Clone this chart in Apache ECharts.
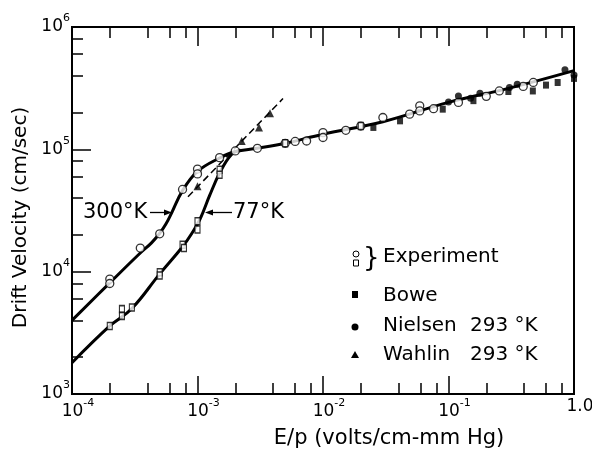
<!DOCTYPE html>
<html>
<head>
<meta charset="utf-8">
<script src="https://cdn.jsdelivr.net/npm/echarts@6/dist/echarts.min.js"></script>
<style>
  html, body { margin: 0; padding: 0; background: #fff; }
  #chart { width: 592px; height: 449px; }
</style>
</head>
<body>
<div id="chart"></div>
<script>
// 坐标轴刻度
var xMajor = [1e-4, 1e-3, 1e-2, 1e-1, 1];
var xMinor = [2e-4, 4e-4, 6e-4, 8e-4, 2e-3, 4e-3, 6e-3, 8e-3,
              2e-2, 4e-2, 6e-2, 8e-2, 0.2, 0.4, 0.6, 0.8];
var yMajor = [1e3, 1e4, 1e5, 1e6];
var yMinor = [2e3, 4e3, 6e3, 8e3, 2e4, 4e4, 6e4, 8e4,
              2e5, 4e5, 6e5, 8e5];

// 300°K 曲线 (含高场公共段)
var curve300 = [[1e-4, 4.0e3], [2e-4, 8.1e3], [3.5e-4, 1.42e4], [4.3e-4, 1.72e4],
  [5e-4, 2.06e4], [5.6e-4, 2.45e4], [6.2e-4, 3.0e4], [7.6e-4, 4.6e4],
  [1e-3, 6.6e4], [1.5e-3, 8.5e4], [2e-3, 9.6e4], [3e-3, 1.02e5],
  [5e-3, 1.12e5], [1e-2, 1.33e5], [3e-2, 1.68e5], [0.1, 2.42e5],
  [0.3, 3.15e5], [1.0, 4.4e5]];
// 77°K 曲线
var curve77 = [[1e-4, 1.8e3], [2e-4, 3.6e3], [3e-4, 5.0e3], [5e-4, 9.6e3],
  [7.6e-4, 1.6e4], [9e-4, 2.05e4], [1.05e-3, 2.7e4], [1.25e-3, 4.2e4],
  [1.5e-3, 6.4e4], [1.85e-3, 9.0e4], [2.2e-3, 9.9e4]];
// Wahlin 虚线
var wahlinLine = [[8.4e-4, 4.1e4], [4.8e-3, 2.6e5]];

// 实验点
var expCircle = [[2e-4, 8.7e3], [2e-4, 8.0e3], [3.5e-4, 1.56e4], [5e-4, 2.04e4],
  [7.6e-4, 4.7e4], [1e-3, 6.9e4], [1e-3, 6.3e4], [1.5e-3, 8.55e4],
  [2e-3, 9.7e4], [3e-3, 1.02e5], [5e-3, 1.12e5], [6e-3, 1.16e5],
  [7.4e-3, 1.17e5], [1e-2, 1.37e5], [1e-2, 1.25e5], [1.52e-2, 1.43e5],
  [2.0e-2, 1.55e5], [3.0e-2, 1.82e5], [4.9e-2, 1.94e5], [5.9e-2, 2.27e5],
  [5.9e-2, 2.06e5], [7.6e-2, 2.15e5], [0.12, 2.42e5], [0.2, 2.71e5],
  [0.254, 3.0e5], [0.394, 3.27e5], [0.474, 3.52e5]];
var expSquare = [[2e-4, 3.6e3], [2.5e-4, 4.94e3], [2.5e-4, 4.35e3], [3e-4, 5.1e3],
  [5e-4, 9.9e3], [5e-4, 9.3e3], [7.6e-4, 1.66e4], [7.8e-4, 1.56e4],
  [1e-3, 2.58e4], [1e-3, 2.21e4], [1.5e-3, 6.8e4], [1.5e-3, 6.2e4],
  [5e-3, 1.12e5], [2.0e-2, 1.55e5]];
var bowe = [[2.52e-2, 1.51e5], [4.11e-2, 1.71e5], [9.0e-2, 2.13e5], [0.158, 2.5e5],
  [0.30, 2.97e5], [0.47, 3.0e5], [0.598, 3.35e5], [0.741, 3.52e5], [1.0, 3.8e5]];
var nielsen = [[0.1, 2.44e5], [0.12, 2.73e5], [0.15, 2.62e5], [0.178, 2.88e5],
  [0.306, 3.2e5], [0.353, 3.41e5], [0.847, 4.47e5], [1.0, 4.05e5]];
var wahlin = [[1e-3, 5.0e4], [2.25e-3, 1.17e5], [3.09e-3, 1.51e5], [3.78e-3, 1.97e5]];

var FONT = 'DejaVu Sans';

function powLabel(v) {
    if (Math.abs(v - 1) < 1e-9) return '{b|1.0}';
    var e = Math.round(Math.log(v) / Math.LN10);
    return '{b|10}{s|' + e + '}';
}
var richPow = {
    b: {fontSize: 17, fontFamily: FONT, color: '#000'},
    s: {fontSize: 11, fontFamily: FONT, color: '#000', padding: [0, 0, 17, 0]}
};

function tickAxis(pos, values, len, showLine) {
    return {
        type: 'log', position: pos,
        min: 1e-4, max: 1,
        axisLine: {show: showLine, lineStyle: {color: '#000', width: 2}},
        axisTick: {show: true, inside: true, length: len, customValues: values,
                   lineStyle: {color: '#000', width: 1.5}},
        axisLabel: {show: false},
        splitLine: {show: false}
    };
}

var chart = echarts.init(document.getElementById('chart'));
var option = {
    backgroundColor: '#fff',
    animation: false,
    grid: {left: 72, right: 18, top: 27, bottom: 55, show: true,
           borderColor: '#000', borderWidth: 2, outerBoundsMode: 'none'},
    xAxis: [
        {
            type: 'log', position: 'bottom', min: 1e-4, max: 1,
            axisLine: {show: true, lineStyle: {color: '#000', width: 2}},
            axisTick: {show: true, inside: true, length: 18, customValues: xMajor,
                       lineStyle: {color: '#000', width: 1.5}},
            axisLabel: {customValues: xMajor, formatter: powLabel, rich: richPow,
                        margin: 4, padding: [0, 0, 0, 12]},
            splitLine: {show: false},
            name: 'E/p (volts/cm-mm Hg)', nameLocation: 'middle', nameGap: 34,
            nameTextStyle: {fontSize: 21, fontFamily: FONT, color: '#000',
                            padding: [0, 0, 0, 132]}
        },
        tickAxis('bottom', xMinor, 11, false),
        tickAxis('top', xMajor, 19, false),
        tickAxis('top', xMinor, 11, false)
    ],
    yAxis: [
        {
            type: 'log', position: 'left', min: 1e3, max: 1e6,
            axisLine: {show: true, lineStyle: {color: '#000', width: 2}},
            axisTick: {show: true, inside: true, length: 19, customValues: yMajor,
                       lineStyle: {color: '#000', width: 1.5}},
            axisLabel: {customValues: yMajor, formatter: powLabel, rich: richPow, margin: 2},
            splitLine: {show: false},
            name: 'Drift Velocity (cm/sec)', nameLocation: 'middle', nameGap: 40,
            nameTextStyle: {fontSize: 20, fontFamily: FONT, color: '#000',
                            padding: [0, 14, 0, 0]}
        },
        {
            type: 'log', position: 'left', min: 1e3, max: 1e6,
            axisLine: {show: false},
            axisTick: {show: true, inside: true, length: 11, customValues: yMinor,
                       lineStyle: {color: '#000', width: 1.5}},
            axisLabel: {show: false},
            splitLine: {show: false}
        }
    ],
    series: [
        {name: '300K', type: 'line', data: curve300, smooth: 0.4,
         showSymbol: false, lineStyle: {color: '#000', width: 3}, z: 2},
        {name: '77K', type: 'line', data: curve77, smooth: 0.4,
         showSymbol: false, lineStyle: {color: '#000', width: 3}, z: 2},
        {name: 'WahlinLine', type: 'line', data: wahlinLine, showSymbol: false,
         lineStyle: {color: '#000', width: 1.5, type: [7, 4]}, z: 2},
        {name: 'Experiment 300', type: 'scatter', data: expCircle, symbol: 'circle',
         symbolSize: 8, itemStyle: {color: '#fff', borderColor: '#000', borderWidth: 1.3}, z: 4},
        {name: 'Experiment 77', type: 'scatter', data: expSquare, symbol: 'rect',
         symbolSize: [5, 7], itemStyle: {color: '#fff', borderColor: '#000', borderWidth: 1.3}, z: 4},
        {name: 'Bowe', type: 'scatter', data: bowe, symbol: 'rect',
         symbolSize: [6, 7], itemStyle: {color: '#000'}, z: 5},
        {name: 'Nielsen', type: 'scatter', data: nielsen, symbol: 'circle',
         symbolSize: 7, itemStyle: {color: '#000'}, z: 5},
        {name: 'Wahlin', type: 'scatter', data: wahlin, symbol: 'triangle',
         symbolSize: 8, itemStyle: {color: '#000'}, z: 5}
    ],
    graphic: [
        // 图例
        {type: 'circle', shape: {cx: 356, cy: 254, r: 3}, style: {fill: '#fff', stroke: '#000', lineWidth: 1}},
        {type: 'rect', shape: {x: 353.5, y: 260, width: 5, height: 6}, style: {fill: '#fff', stroke: '#000', lineWidth: 1}},
        {type: 'text', left: 363, top: 246, style: {text: '}', fontSize: 26, fontFamily: FONT, fill: '#000'}},
        {type: 'text', left: 383, top: 247, style: {text: 'Experiment', fontSize: 20, fontFamily: FONT, fill: '#000'}},
        {type: 'rect', shape: {x: 352, y: 291, width: 6, height: 7}, style: {fill: '#000'}},
        {type: 'text', left: 383, top: 286, style: {text: 'Bowe', fontSize: 20, fontFamily: FONT, fill: '#000'}},
        {type: 'circle', shape: {cx: 355, cy: 327, r: 3.5}, style: {fill: '#000'}},
        {type: 'text', left: 383, top: 316, style: {text: 'Nielsen', fontSize: 20, fontFamily: FONT, fill: '#000'}},
        {type: 'text', left: 470, top: 316, style: {text: '293 °K', fontSize: 20, fontFamily: FONT, fill: '#000'}},
        {type: 'polygon', shape: {points: [[355, 351], [351, 358], [359, 358]]}, style: {fill: '#000'}},
        {type: 'text', left: 383, top: 345, style: {text: 'Wahlin', fontSize: 20, fontFamily: FONT, fill: '#000'}},
        {type: 'text', left: 470, top: 345, style: {text: '293 °K', fontSize: 20, fontFamily: FONT, fill: '#000'}},
        // 温度标注
        {type: 'text', left: 83, top: 202, style: {text: '300°K', fontSize: 21, fontFamily: FONT, fill: '#000'}},
        {type: 'line', shape: {x1: 150, y1: 212.5, x2: 166, y2: 212.5}, style: {stroke: '#000', lineWidth: 1.3}},
        {type: 'polygon', shape: {points: [[172, 212.5], [164, 209.5], [164, 215.5]]}, style: {fill: '#000'}},
        {type: 'text', left: 233, top: 202, style: {text: '77°K', fontSize: 21, fontFamily: FONT, fill: '#000'}},
        {type: 'line', shape: {x1: 211, y1: 212.5, x2: 232, y2: 212.5}, style: {stroke: '#000', lineWidth: 1.3}},
        {type: 'polygon', shape: {points: [[205, 212.5], [213, 209.5], [213, 215.5]]}, style: {fill: '#000'}}
    ]
};
chart.setOption(option);
</script>
</body>
</html>
